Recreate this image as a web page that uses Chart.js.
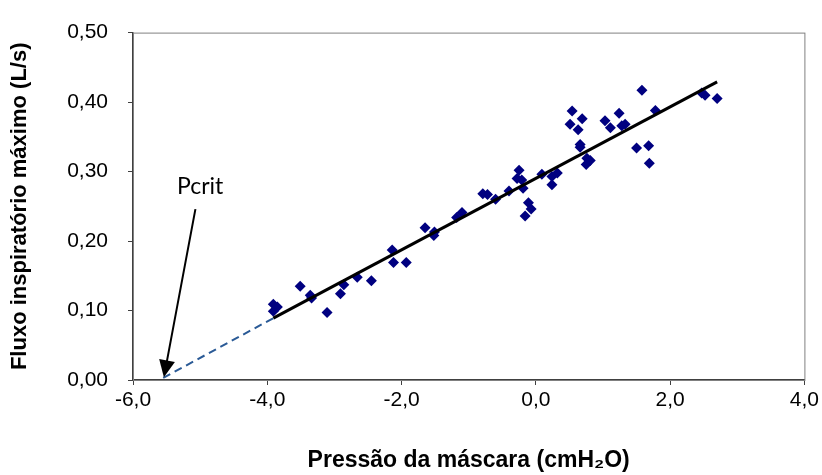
<!DOCTYPE html>
<html>
<head>
<meta charset="utf-8">
<script src="https://cdn.jsdelivr.net/npm/chart.js@4/dist/chart.umd.min.js"></script>
<style>
  html, body { margin: 0; padding: 0; background: #fff; }
  #wrap { width: 822px; height: 475px; }
</style>
</head>
<body>
<div id="wrap"><canvas id="grafico" width="822" height="475"></canvas></div>
<script>
// pressão da máscara (cmH2O) x fluxo inspiratório máximo (L/s)
const pressao = [
  -3.91, -3.85, -3.91, -3.51, -3.36, -3.34, -3.11, -2.91, -2.86, -2.66,
  -2.45, -2.14, -2.12, -1.93, -1.65, -1.52, -1.51, -1.18, -1.10, -0.72,
  -0.79, -0.60, -0.40, -0.19, -0.25, -0.28, -0.21, -0.11, -0.07, -0.16,
  0.09, 0.24, 0.32, 0.24, 0.66, 0.66, 0.76, 0.81, 0.75, 0.54,
  0.69, 0.51, 0.63, 1.03, 1.11, 1.24, 1.28, 1.33, 1.58, 1.78,
  1.50, 1.68, 1.69, 2.47, 2.52, 2.70
];
const fluxo = [
  0.109, 0.105, 0.099, 0.135, 0.122, 0.118, 0.097, 0.124, 0.137, 0.148,
  0.143, 0.187, 0.169, 0.169, 0.219, 0.208, 0.213, 0.234, 0.241, 0.267,
  0.268, 0.260, 0.272, 0.276, 0.302, 0.290, 0.288, 0.255, 0.246, 0.236,
  0.296, 0.293, 0.298, 0.281, 0.339, 0.335, 0.319, 0.316, 0.310, 0.387,
  0.376, 0.368, 0.360, 0.373, 0.363, 0.384, 0.366, 0.368, 0.417, 0.388,
  0.334, 0.337, 0.312, 0.413, 0.410, 0.405
];

// reta de regressão e o prolongamento tracejado até o eixo
const retaX = [-3.91, 2.70];
const retaY = [0.089, 0.429];
const extX = [-5.55, -3.91];
const extY = [0.003, 0.089];

// seta do Pcrit (cauda -> ponta) e posição do rótulo
const setaX = [-5.07, -5.54];
const setaY = [0.246, 0.004];
const rotuloPcrit = { texto: 'Pcrit', x: -5.0, y: 0.278 };

const eixoX = { min: -6, max: 4, passo: 2 };
const eixoY = { min: 0, max: 0.5, passo: 0.1 };

const virgula = (v, casas) => v.toFixed(casas).replace('.', ',');

const setaPcrit = {
  id: 'setaPcrit',
  afterDatasetsDraw(chart) {
    const { ctx, scales: { x, y } } = chart;
    const x0 = x.getPixelForValue(setaX[0]), y0 = y.getPixelForValue(setaY[0]);
    const x1 = x.getPixelForValue(setaX[1]), y1 = y.getPixelForValue(setaY[1]);
    const ang = Math.atan2(y1 - y0, x1 - x0);
    const cab = 17, larg = 8;
    ctx.save();
    ctx.strokeStyle = '#000';
    ctx.fillStyle = '#000';
    ctx.lineWidth = 2;
    ctx.beginPath();
    ctx.moveTo(x0, y0);
    ctx.lineTo(x1 - Math.cos(ang) * cab * 0.8, y1 - Math.sin(ang) * cab * 0.8);
    ctx.stroke();
    ctx.beginPath();
    ctx.moveTo(x1, y1);
    ctx.lineTo(x1 - Math.cos(ang) * cab - Math.sin(ang) * larg, y1 - Math.sin(ang) * cab + Math.cos(ang) * larg);
    ctx.lineTo(x1 - Math.cos(ang) * cab + Math.sin(ang) * larg, y1 - Math.sin(ang) * cab - Math.cos(ang) * larg);
    ctx.closePath();
    ctx.fill();
    ctx.font = '23px Lato, "Open Sans", sans-serif';
    ctx.textAlign = 'center';
    ctx.textBaseline = 'middle';
    ctx.fillText(rotuloPcrit.texto, x.getPixelForValue(rotuloPcrit.x), y.getPixelForValue(rotuloPcrit.y));
    ctx.restore();
  }
};

// moldura da área de plotagem
const moldura = {
  id: 'moldura',
  beforeDatasetsDraw(chart) {
    const { ctx, chartArea: a } = chart;
    ctx.save();
    ctx.strokeStyle = '#808080';
    ctx.lineWidth = 1;
    ctx.strokeRect(a.left + 0.5, a.top + 0.5, a.right - a.left, a.bottom - a.top);
    ctx.restore();
  }
};

const pontos = pressao.map((p, i) => ({ x: p, y: fluxo[i] }));

new Chart(document.getElementById('grafico'), {
  type: 'scatter',
  data: {
    datasets: [
      {
        data: retaX.map((v, i) => ({ x: v, y: retaY[i] })),
        showLine: true,
        borderColor: '#000',
        borderWidth: 3,
        pointRadius: 0,
        order: 0
      },
      {
        data: extX.map((v, i) => ({ x: v, y: extY[i] })),
        showLine: true,
        borderColor: '#2a5a96',
        borderWidth: 2,
        borderDash: [8, 5],
        pointRadius: 0,
        order: 1
      },
      {
        data: pontos,
        pointStyle: 'rectRot',
        pointRadius: 5.5,
        pointBackgroundColor: '#000080',
        pointBorderColor: '#000080',
        pointBorderWidth: 0,
        order: 2
      }
    ]
  },
  options: {
    responsive: false,
    animation: false,
    devicePixelRatio: 1,
    layout: { padding: { top: 24, right: 16, left: 0, bottom: 0 } },
    plugins: {
      legend: { display: false },
      tooltip: { enabled: false }
    },
    scales: {
      x: {
        type: 'linear',
        min: eixoX.min,
        max: eixoX.max,
        ticks: {
          stepSize: eixoX.passo,
          padding: 3,
          color: '#000',
          font: { family: '"Liberation Sans", Arial, sans-serif', size: 21 },
          callback: v => virgula(v, 1)
        },
        grid: { drawOnChartArea: false, drawTicks: true, tickLength: 5, color: '#404040' },
        border: { display: true, color: '#404040', width: 1.5 },
        title: {
          display: true,
          text: 'Pressão da máscara (cmH₂O)',
          color: '#000',
          font: { family: '"Liberation Sans", Arial, sans-serif', size: 23, weight: 'bold' },
          padding: { top: 0, bottom: 1 }
        },
        afterFit(scale) { scale.height = 95; }
      },
      y: {
        type: 'linear',
        min: eixoY.min,
        max: eixoY.max,
        ticks: {
          stepSize: eixoY.passo,
          padding: 20,
          color: '#000',
          font: { family: '"Liberation Sans", Arial, sans-serif', size: 21 },
          callback: v => virgula(v, 2)
        },
        grid: { drawOnChartArea: false, drawTicks: true, tickLength: 5, color: '#404040' },
        border: { display: true, color: '#404040', width: 1.5 },
        title: {
          display: true,
          text: 'Fluxo inspiratório máximo (L/s)',
          color: '#000',
          font: { family: '"Liberation Sans", Arial, sans-serif', size: 22, weight: 'bold' },
          padding: { top: 7, bottom: 0 }
        },
        afterFit(scale) { scale.width = 133; }
      }
    }
  },
  plugins: [moldura, setaPcrit]
});
</script>
</body>
</html>
